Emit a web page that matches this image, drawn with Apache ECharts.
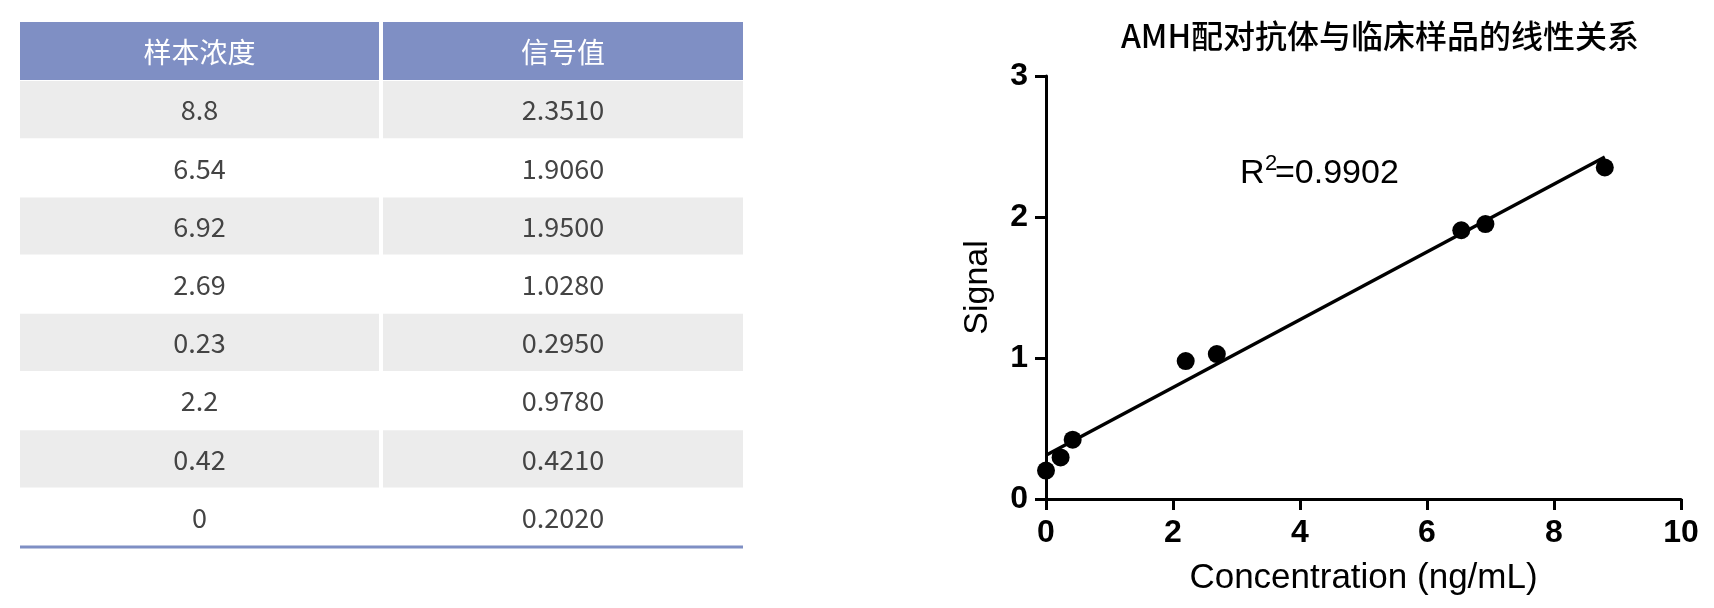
<!DOCTYPE html>
<html>
<head>
<meta charset="utf-8">
<script src="https://cdn.jsdelivr.net/npm/echarts@6/dist/echarts.min.js"></script>
<style>
html,body{margin:0;padding:0;background:#fff;overflow:hidden;}
#c{width:1714px;height:608px;}
</style>
</head>
<body>
<div id="c"></div>
<script>
// ---- data ----
var tableHeaders = ['样本浓度', '信号值'];
var concentration = [8.8, 6.54, 6.92, 2.69, 0.23, 2.2, 0.42, 0];
var signal = [2.3510, 1.9060, 1.9500, 1.0280, 0.2950, 0.9780, 0.4210, 0.2020];
var fitLine = [[0, 0.31], [8.8, 2.425]];
var rSquaredText = '0.9902';
var chartTitle = 'AMH配对抗体与临床样品的线性关系';
var xAxisName = 'Concentration (ng/mL)';
var yAxisName = 'Signal';

// ---- table as graphic elements ----
var CJK = '"Noto Sans CJK SC", "Noto Sans", sans-serif';
var LAT = '"Liberation Sans", Arial, sans-serif';
var tblLeft = 20, colW = [359, 360], colGap = 4, headerTop = 22, headerH = 58, rowH = 58.2;
var headerColor = '#7f8fc4', stripe = '#ececec', textColor = '#444444';
var graphics = [];
var colX = [tblLeft, tblLeft + colW[0] + colGap];
tableHeaders.forEach(function (h, c) {
  graphics.push({type: 'rect', shape: {x: colX[c], y: headerTop, width: colW[c], height: headerH}, style: {fill: headerColor}});
  graphics.push({type: 'text', style: {text: h, x: colX[c] + colW[c] / 2, y: headerTop + headerH / 2 + 1, align: 'center', verticalAlign: 'middle', fill: '#fff', fontSize: 28, fontFamily: CJK, fontWeight: 'normal'}});
});
var rowsTop = headerTop + headerH + 1;
concentration.forEach(function (v, r) {
  var y = rowsTop + r * rowH;
  var cells = [String(v), signal[r].toFixed(4)];
  for (var c = 0; c < 2; c++) {
    if (r % 2 === 0) {
      graphics.push({type: 'rect', shape: {x: colX[c], y: y, width: colW[c], height: rowH - 1}, style: {fill: stripe}});
    }
    graphics.push({type: 'text', style: {text: cells[c], x: colX[c] + colW[c] / 2, y: y + rowH / 2, align: 'center', verticalAlign: 'middle', fill: textColor, fontSize: 27, fontFamily: CJK, fontWeight: 'normal'}});
  }
});
var tblBottom = rowsTop + concentration.length * rowH - 1;
graphics.push({type: 'rect', shape: {x: tblLeft, y: tblBottom, width: colX[1] + colW[1] - tblLeft, height: 3}, style: {fill: headerColor}});

// R^2 annotation (R, superscript 2, value)
graphics.push({type: 'text', style: {text: 'R', x: 1240, y: 174, verticalAlign: 'middle', fontSize: 34, fontFamily: LAT, fill: '#000'}});
graphics.push({type: 'text', style: {text: '2', x: 1265, y: 164, verticalAlign: 'middle', fontSize: 22, fontFamily: LAT, fill: '#000'}});
graphics.push({type: 'text', style: {text: '=' + rSquaredText, x: 1275, y: 174, verticalAlign: 'middle', fontSize: 34, fontFamily: LAT, fill: '#000'}});

var scatterData = concentration.map(function (x, i) { return [x, signal[i]]; });

var chart = echarts.init(document.getElementById('c'));
chart.setOption({
  animation: false,
  backgroundColor: '#fff',
  title: {
    text: chartTitle,
    left: 1375, top: 15, textAlign: 'center',
    textStyle: {fontSize: 32, fontFamily: CJK, fontWeight: 500, color: '#000'}
  },
  grid: {left: 1046, right: 33, top: 76, bottom: 109, containLabel: false, outerBoundsMode: 'none'},
  xAxis: {
    type: 'value', min: 0, max: 10, interval: 2,
    name: xAxisName, nameLocation: 'middle', nameGap: 62,
    nameTextStyle: {fontSize: 35, fontFamily: LAT, color: '#000'},
    axisLine: {show: true, onZero: false, lineStyle: {color: '#000', width: 3}},
    axisTick: {show: true, length: 11, lineStyle: {color: '#000', width: 3}},
    axisLabel: {margin: 18, fontSize: 32, fontWeight: 'bold', fontFamily: LAT, color: '#000'},
    splitLine: {show: false}
  },
  yAxis: {
    type: 'value', min: 0, max: 3, interval: 1,
    name: yAxisName, nameLocation: 'middle', nameGap: 51,
    nameTextStyle: {fontSize: 34, fontFamily: LAT, color: '#000'},
    axisLine: {show: true, onZero: false, lineStyle: {color: '#000', width: 3}},
    axisTick: {show: true, length: 11, lineStyle: {color: '#000', width: 3}},
    axisLabel: {margin: 18, fontSize: 32, fontWeight: 'bold', fontFamily: LAT, color: '#000'},
    splitLine: {show: false}
  },
  series: [
    {type: 'line', data: fitLine, showSymbol: false, symbol: 'none', lineStyle: {color: '#000', width: 3.5}, z: 2},
    {type: 'scatter', data: scatterData, symbol: 'circle', symbolSize: 18, itemStyle: {color: '#000', opacity: 1}, z: 3}
  ],
  graphic: graphics
});
</script>
</body>
</html>
